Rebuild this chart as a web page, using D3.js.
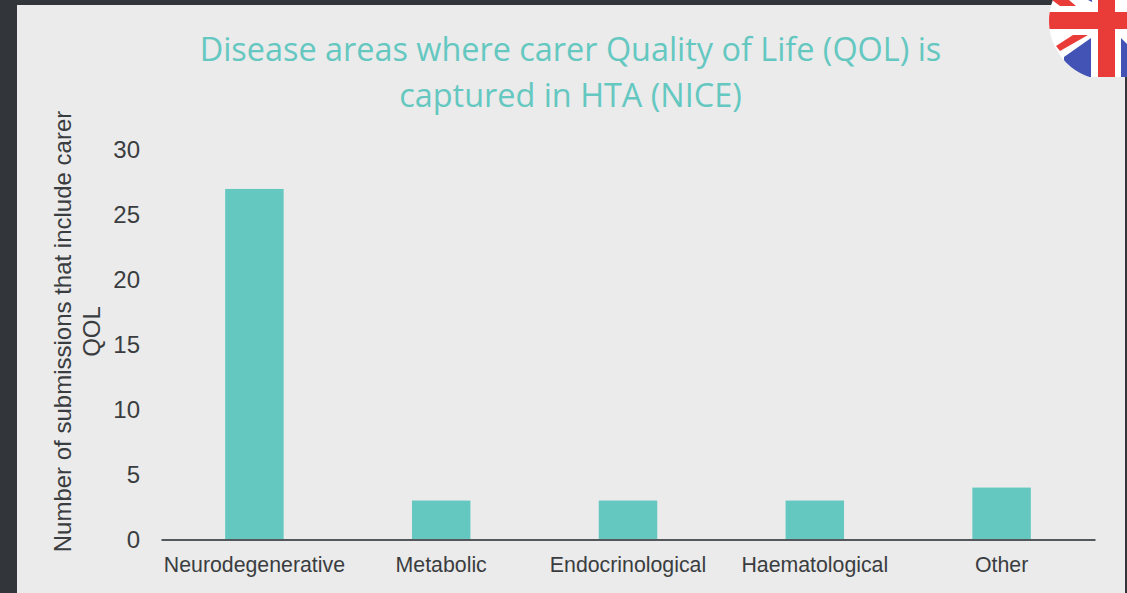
<!DOCTYPE html>
<html lang="en">
<head>
    <meta charset="UTF-8">
    <title>Carer QOL</title>
    <style>
        html, body { margin: 0; padding: 0; background: #32363a; overflow: hidden; }
    </style>
</head>
<body>
<div id="chart"></div>
<script src="https://cdn.jsdelivr.net/npm/d3@7"></script>
<script>
    const width = 1127,
        height = 593;
    const margin = {"top": 150, "left": 161, "bottom": 53.5, "right": 32};

    const categories = ["Neurodegenerative", "Metabolic", "Endocrinological", "Haematological", "Other"];
    const submissions = [27, 3, 3, 3, 4];
    const yTicks = [0, 5, 10, 15, 20, 25, 30];
    const titleLines = ["Disease areas where carer Quality of Life (QOL) is", "captured in HTA (NICE)"];
    const yTitleLines = ["Number of submissions that include carer", "QOL"];

    const teal = "#64c8c1", dark = "#3a3d40";

    let svg = d3.select("#chart")
        .append("svg")
        .attr("width", width)
        .attr("height", height)
        .style("display", "block");

    // slide background
    svg.append("rect")
        .attr("x", 17).attr("y", 5)
        .attr("width", 1108).attr("height", height - 5)
        .attr("fill", "#ebebeb");

    let xScale = d3.scaleBand()
        .domain(categories)
        .range([margin.left, width - margin.right])
        .paddingInner(0.687)
        .paddingOuter(0.3435);

    let yScale = d3.scaleLinear()
        .domain([0, 30])
        .range([height - margin.bottom, margin.top]);

    // bars
    svg.append("g")
        .selectAll("rect")
        .data(submissions)
        .join("rect")
        .attr("x", (d, i) => xScale(categories[i]))
        .attr("y", d => yScale(d))
        .attr("width", xScale.bandwidth())
        .attr("height", d => yScale(0) - yScale(d))
        .attr("fill", teal);

    // x axis
    let xAxis = svg.append("g")
        .attr("transform", `translate(0,${height - margin.bottom})`)
        .call(d3.axisBottom(xScale).tickSize(0).tickPadding(17));
    xAxis.select(".domain").attr("stroke", "#55585a").attr("stroke-width", 2);
    xAxis.selectAll("text")
        .attr("fill", dark)
        .style("font-family", "'Liberation Sans'")
        .style("font-size", "21.3px");

    // y axis, no line
    let yAxis = svg.append("g")
        .attr("transform", `translate(${margin.left},0)`)
        .call(d3.axisLeft(yScale).tickValues(yTicks).tickSize(0).tickPadding(21));
    yAxis.select(".domain").remove();
    yAxis.selectAll("text")
        .attr("fill", dark)
        .style("font-family", "'Liberation Sans'")
        .style("font-size", "24px");

    // y title
    svg.append("text")
        .attr("transform", "translate(71,331.5) rotate(-90)")
        .attr("text-anchor", "middle")
        .attr("fill", dark)
        .style("font-family", "'Liberation Sans'")
        .style("font-size", "24px")
        .selectAll("tspan")
        .data(yTitleLines)
        .join("tspan")
        .attr("x", 0)
        .attr("dy", (d, i) => i ? 29 : 0)
        .text(d => d);

    // title
    svg.append("text")
        .attr("text-anchor", "middle")
        .attr("fill", teal)
        .style("font-family", "'Open Sans'")
        .style("font-size", "32.4px")
        .selectAll("tspan")
        .data(titleLines)
        .join("tspan")
        .attr("x", 570.5)
        .attr("y", (d, i) => 61 + i * 46)
        .text(d => d);

    // union jack badge, top right corner
    let clip = svg.append("clipPath").attr("id", "badge");
    clip.append("path").attr("d", "M1049 0 H1127 V77 H1049 Z");
    let outer = svg.append("g").attr("clip-path", "url(#badge)");
    svg.append("clipPath").attr("id", "badgeRound")
        .append("circle").attr("cx", 1108).attr("cy", 21).attr("r", 59);
    let flag = outer.append("g").attr("clip-path", "url(#badgeRound)");
    flag.append("rect").attr("x", 1040).attr("y", 0).attr("width", 87).attr("height", 80).attr("fill", "#fff");
    flag.append("path").attr("d", "M1064 57 L1091 38 L1091 77 L1064 77 Z").attr("fill", "#4353b5");
    flag.append("path").attr("d", "M1121 38 L1127 44 L1127 77 L1121 77 Z").attr("fill", "#4353b5");
    flag.append("path").attr("d", "M1056 46 L1073 35 L1088 35 L1060 51 Z").attr("fill", "#e93c38");
    flag.append("path").attr("d", "M1052 0 L1069 0 L1076 6 L1060 6 Z").attr("fill", "#e93c38");
    flag.append("path").attr("d", "M1088 0 L1092 0 L1092 2 Z").attr("fill", "#4353b5");
    flag.append("rect").attr("x", 1040).attr("y", 12).attr("width", 87).attr("height", 17).attr("fill", "#e93c38");
    flag.append("rect").attr("x", 1098).attr("y", 0).attr("width", 17).attr("height", 80).attr("fill", "#e93c38");
</script>
</body>
</html>
